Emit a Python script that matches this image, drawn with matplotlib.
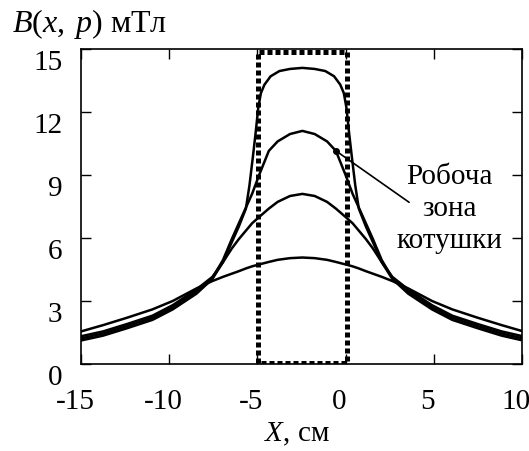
import matplotlib
matplotlib.use('Agg')
import matplotlib.pyplot as plt
import matplotlib.transforms as mtransforms

plt.rcParams['font.family'] = ['Liberation Serif', 'DejaVu Serif']
plt.rcParams['mathtext.fontset'] = 'custom'
plt.rcParams['mathtext.it'] = 'Liberation Serif:italic'
plt.rcParams['mathtext.rm'] = 'Liberation Serif'
plt.rcParams['axes.unicode_minus'] = False

# field profiles, X in cm, B in mT
a_x = [-15, -13.75, -12.4, -10.95, -9.8, -8.45, -7.55, -6.95, -6.45, -6.05, -5.65,
       -5.45, -5.25, -5.1, -4.95, -4.8, -4.6, -4.25, -3.75, -3.15, -2.45,
       -1.75, -1.15, -0.65, -0.3, -0.1, 0.05, 0.2, 0.35, 0.55, 0.75,
       1.15, 1.55, 2.05, 2.65, 3.55, 4.9, 6.05, 7.5, 8.85, 10.0]
a_y = [1.12, 1.35, 1.7, 2.1, 2.6, 3.35, 4.05, 4.85, 5.8, 6.55, 7.4,
       8.5, 9.9, 11.0, 12.2, 12.9, 13.3, 13.7, 13.95, 14.05, 14.1,
       14.05, 13.95, 13.7, 13.3, 12.9, 12.2, 11.0, 9.9, 8.5, 7.4,
       6.55, 5.8, 4.85, 4.05, 3.35, 2.6, 2.1, 1.7, 1.35, 1.13]

bcd_x = [-15, -13.75, -12.4, -10.95, -9.8, -8.45, -7.55, -6.95, -6.45, -6.05, -5.65,
         -5.3, -4.9, -4.35, -3.85, -3.15, -2.45,
         -1.75, -1.05, -0.55, 0.0, 0.4, 0.75, 1.15, 1.55, 2.05, 2.65,
         3.55, 4.9, 6.05, 7.5, 8.85, 10.0]
b_y = [1.22, 1.45, 1.8, 2.2, 2.7, 3.45, 4.1, 4.95, 5.95, 6.7, 7.45,
       8.1, 9.0, 10.15, 10.6, 10.95, 11.1,
       10.95, 10.6, 10.15, 9.0, 8.1, 7.45, 6.7, 5.95, 4.95, 4.1,
       3.45, 2.7, 2.2, 1.8, 1.45, 1.23]
c_y = [1.32, 1.55, 1.9, 2.3, 2.8, 3.55, 4.15, 4.85, 5.5, 5.95, 6.35,
       6.7, 7.0, 7.4, 7.72, 8.0, 8.1,
       8.0, 7.72, 7.4, 7.0, 6.7, 6.35, 5.95, 5.5, 4.85, 4.15,
       3.55, 2.8, 2.3, 1.9, 1.55, 1.33]
d_y = [1.55, 1.85, 2.2, 2.6, 3.0, 3.6, 3.95, 4.15, 4.3, 4.42, 4.55,
       4.65, 4.74, 4.86, 4.96, 5.04, 5.07,
       5.04, 4.96, 4.86, 4.74, 4.65, 4.55, 4.42, 4.3, 4.15, 3.95,
       3.6, 3.0, 2.6, 2.2, 1.85, 1.57]

coil_x = (-4.95, 0.1)
coil_y = (0.05, 14.88)

x_ticks = [-15, -10, -5, 0, 5, 10]
y_ticks = [0, 3, 6, 9, 12, 15]

fig = plt.figure(figsize=(5.29, 4.52), dpi=100)
ax = fig.add_axes([0.1531, 0.1925, 0.8336, 0.6969])

ax.plot(a_x, a_y, color='k', lw=1.8)
ax.plot(bcd_x, b_y, color='k', lw=1.8)
ax.plot(bcd_x, c_y, color='k', lw=1.8)
ax.plot(bcd_x, d_y, color='k', lw=1.8)

# working zone of the coil
ax.plot([coil_x[0], coil_x[0], coil_x[1], coil_x[1], coil_x[0]],
        [coil_y[0], coil_y[1], coil_y[1], coil_y[0], coil_y[0]],
        color='k', lw=3.6, ls=(0, (1, 0.6)), dash_capstyle='butt', zorder=3)

# pointer to the curve
k = 19
ax.annotate('', xy=(bcd_x[k], b_y[k]), xytext=(3.6, 7.7),
            arrowprops=dict(arrowstyle='-', color='k', lw=1.2, shrinkA=0, shrinkB=0))
ax.plot([bcd_x[k]], [b_y[k]], 'o', color='k', ms=4)
ax.text(5.9, 7.45, 'Робоча\nзона\nкотушки', ha='center', va='center',
        fontsize=21, linespacing=1.3)

ax.set_xlim(-15, 10)
ax.set_ylim(0, 15)
ax.set_xticks(x_ticks)
ax.set_yticks(y_ticks)
ax.tick_params(direction='in', length=7, width=1, top=True, right=True, labelsize=21)
ax.tick_params(axis='x', pad=17)
ax.tick_params(axis='y', pad=13.5)
for s in ax.spines.values():
    s.set_linewidth(1.2)

dx = mtransforms.ScaledTranslation(-6 / 100, 0, fig.dpi_scale_trans)
dy = mtransforms.ScaledTranslation(0, -10 / 100, fig.dpi_scale_trans)
for lab in ax.get_xticklabels():
    lab.set_transform(lab.get_transform() + dx)
for lab in ax.get_yticklabels():
    lab.set_transform(lab.get_transform() + dy)

fig.text(12 / 529, 1 - 32 / 452, r'$B(x,\;p)$ мТл', ha='left', va='baseline', fontsize=23)
fig.text(297 / 529, 1 - 434 / 452, r'$X$, см', ha='center', va='center', fontsize=21)

fig.savefig('out.png', dpi=100)
